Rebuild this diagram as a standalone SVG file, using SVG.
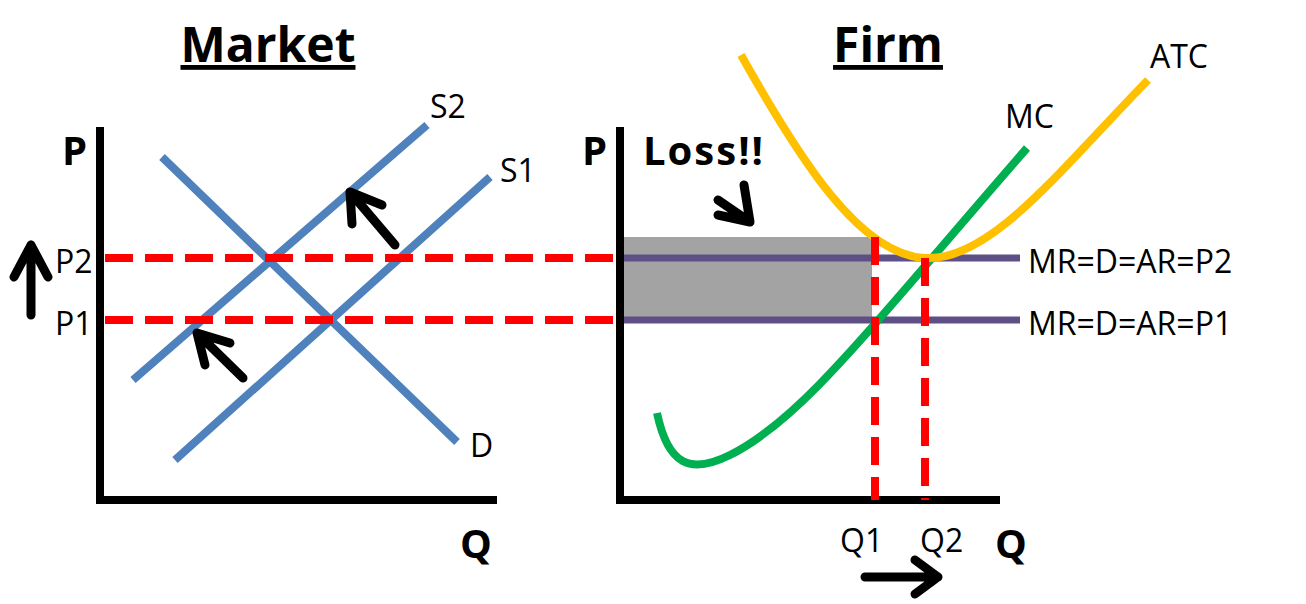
<svg xmlns="http://www.w3.org/2000/svg" width="1306" height="604" viewBox="0 0 1306 604">
<style>
.ax{stroke:#000;stroke-width:8;fill:none}
.bl{stroke:#4f81bd;stroke-width:8;fill:none}
.rd{stroke:#f00;stroke-width:8;stroke-dasharray:28,12;fill:none}
.pu{stroke:#5e4f86;stroke-width:7;fill:none}
.ar{stroke:#000;stroke-width:9;fill:none;stroke-linecap:round;stroke-linejoin:round}
.t{font-family:"Open Sans","Liberation Sans",sans-serif;font-size:32px;fill:#000}
.b{font-family:"Open Sans","Liberation Sans",sans-serif;font-weight:bold;fill:#000}
</style>
<rect width="1306" height="604" fill="#fff"/>
<g id="market">
<text class="b" x="268" y="62" font-size="48" text-anchor="middle" text-decoration="underline">Market</text>
<path class="ax" d="M100,127V500H497"/>
<text class="b" x="62" y="165" font-size="40">P</text>
<text class="b" x="460" y="558" font-size="40">Q</text>
<path class="bl" d="M133,380L427,125M175,460L490,177M162,157L457,442"/>
<text class="t" x="430" y="118">S2</text>
<text class="t" x="500" y="182">S1</text>
<text class="t" x="470" y="457">D</text>
<text class="t" x="55" y="273">P2</text>
<text class="t" x="55" y="335">P1</text>
<path class="ar" d="M31,315V245M14,277L31,245L48,277"/>
<path class="ar" d="M395,245L350,192M352,224L350,192L382,205"/>
<path class="ar" d="M243,378L197,333M205,365L197,333L230,343"/>
</g>
<g id="firm">
<text class="b" x="888" y="62" font-size="48" text-anchor="middle" text-decoration="underline">Firm</text>
<rect x="622" y="237" width="250" height="81" fill="#999" fill-opacity="0.9"/>
<path class="pu" d="M622,258H1020M622,320H1020"/>
<path class="ax" d="M620,127V500H1000"/>
<text class="b" x="582" y="165" font-size="40">P</text>
<text class="b" x="995" y="558" font-size="40">Q</text>
<path d="M657,413C668,465 690,475 730,455C800,420 860,340 1027,148" stroke="#00b050" stroke-width="8" fill="none"/>
<path d="M741,55C800,160 860,255 925,258C990,262 1060,170 1148,80" stroke="#ffc000" stroke-width="8" fill="none"/>
<path class="rd" d="M875,237V500M925,258V500"/>
<text class="t" x="1150" y="68">ATC</text>
<text class="t" x="1005" y="128">MC</text>
<text class="t" x="1028" y="273">MR=D=AR=P2</text>
<text class="t" x="1028" y="335">MR=D=AR=P1</text>
<text class="t" x="840" y="552">Q1</text>
<text class="t" x="920" y="552">Q2</text>
<text class="b" x="643" y="165" font-size="40" letter-spacing="2">Loss!!</text>
<path class="ar" d="M718,200L750,222M744,185L750,222L718,215"/>
<path class="ar" d="M865,577H938M915,560L938,577L915,594"/>
</g>
<g id="connectors">
<path class="rd" d="M105,258H620M105,320H620"/>
</g>
</svg>
